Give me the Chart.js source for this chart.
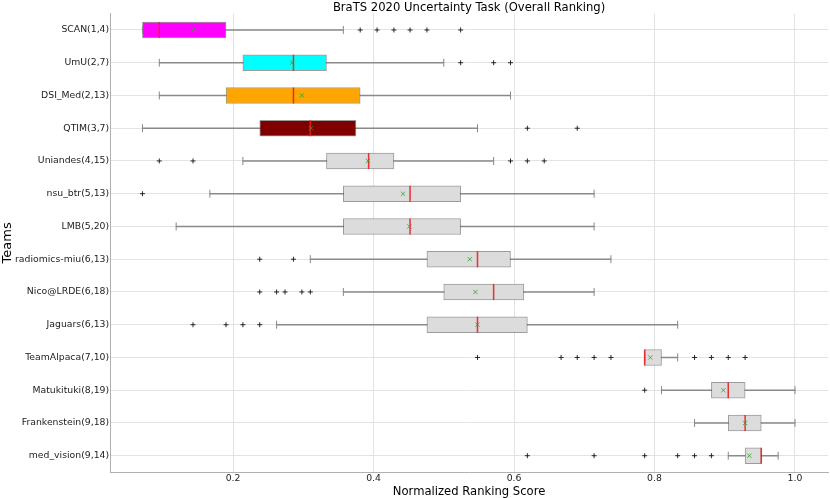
<!DOCTYPE html>
<html>
<head>
<meta charset="utf-8">
<script src="https://cdn.jsdelivr.net/npm/chart.js@4"></script>
<style>
  html, body { margin: 0; padding: 0; background: #fff; overflow: hidden; }
  #wrap { width: 830px; height: 498px; position: relative; }
  canvas { display: block; }
</style>
</head>
<body>
<div id="wrap"><canvas id="boxChart"></canvas></div>
<script>
// values (normalized ranking score)
const teams = ['SCAN(1,4)', 'UmU(2,7)', 'DSI_Med(2,13)', 'QTIM(3,7)', 'Uniandes(4,15)', 'nsu_btr(5,13)',
    'LMB(5,20)', 'radiomics-miu(6,13)', 'Nico@LRDE(6,18)', 'Jaguars(6,13)', 'TeamAlpaca(7,10)',
    'Matukituki(8,19)', 'Frankenstein(9,18)', 'med_vision(9,14)'];
const q1 = [0.071, 0.214, 0.190, 0.238, 0.333, 0.357, 0.357, 0.476, 0.500, 0.476, 0.786, 0.881, 0.905, 0.929];
const q3 = [0.190, 0.333, 0.381, 0.375, 0.429, 0.524, 0.524, 0.595, 0.614, 0.619, 0.810, 0.929, 0.952, 0.952];
const median = [0.095, 0.286, 0.286, 0.310, 0.393, 0.452, 0.452, 0.548, 0.571, 0.548, 0.786, 0.905, 0.929, 0.952];
const mean = [0.143, 0.284, 0.298, 0.311, 0.392, 0.442, 0.451, 0.537, 0.545, 0.548, 0.794, 0.898, 0.929, 0.935];
const whiskerLow = [0.071, 0.095, 0.095, 0.071, 0.214, 0.167, 0.119, 0.310, 0.357, 0.262, 0.786, 0.810, 0.857, 0.905];
const whiskerHigh = [0.357, 0.500, 0.595, 0.548, 0.571, 0.714, 0.714, 0.738, 0.714, 0.833, 0.833, 1.000, 1.000, 0.976];
const outliers = [
    [0.381, 0.405, 0.429, 0.452, 0.476, 0.524],
    [0.524, 0.571, 0.595],
    [],
    [0.619, 0.690],
    [0.095, 0.143, 0.595, 0.619, 0.643],
    [0.071],
    [],
    [0.238, 0.286],
    [0.238, 0.262, 0.274, 0.298, 0.310],
    [0.143, 0.190, 0.214, 0.238],
    [0.548, 0.667, 0.690, 0.714, 0.738, 0.857, 0.881, 0.905, 0.929],
    [0.786],
    [],
    [0.619, 0.714, 0.786, 0.833, 0.857, 0.881]
];
const xTicks = [0.2, 0.4, 0.6, 0.8, 1.0];

const boxColors = teams.map((t, i) => ['#ff00ff', '#00ffff', '#ffa500', '#800000'][i] || '#dcdcdc');
const font = 'DejaVu Sans';

const pts = (vals) => vals.map((v, i) => ({ x: v, y: teams[i] }));
const outlierPts = teams.flatMap((t, i) => outliers[i].map(v => ({ x: v, y: t })));

const ctx = document.getElementById('boxChart').getContext('2d');
const boxChart = new Chart(ctx, {
    type: 'bar',
    data: {
        labels: teams,
        datasets: [
            {
                type: 'scatter', label: 'outliers', data: outlierPts, order: 0,
                pointStyle: 'cross', radius: 2.5, borderColor: 'rgba(20,20,20,0.9)', borderWidth: 1
            },
            {
                type: 'scatter', label: 'mean', data: pts(mean), order: 0,
                pointStyle: 'crossRot', radius: 3, borderColor: 'rgba(44,160,44,0.8)', borderWidth: 1
            },
            {
                type: 'scatter', label: 'median', data: pts(median), order: 1,
                pointStyle: 'line', rotation: 90, radius: 8, borderColor: 'rgba(235,30,30,0.9)', borderWidth: 1.5
            },
            {
                type: 'scatter', label: 'caps', data: pts(whiskerLow).concat(pts(whiskerHigh)), order: 2,
                pointStyle: 'line', rotation: 90, radius: 4, borderColor: '#888888', borderWidth: 1
            },
            {
                label: 'box', data: teams.map((t, i) => [q1[i], q3[i]]), order: 3, grouped: false,
                backgroundColor: boxColors, borderColor: 'rgba(90,90,90,0.6)', borderWidth: 1,
                borderSkipped: false, barThickness: 16
            },
            {
                label: 'whisker', data: teams.map((t, i) => [whiskerLow[i], whiskerHigh[i]]), order: 4, grouped: false,
                backgroundColor: '#8a8a8a', borderWidth: 0, barThickness: 1
            }
        ]
    },
    options: {
        indexAxis: 'y',
        responsive: true,
        maintainAspectRatio: false,
        animation: false,
        layout: { autoPadding: false, padding: { top: 0, right: 2, bottom: 0, left: 0 } },
        plugins: {
            legend: { display: false },
            tooltip: { enabled: false },
            title: {
                display: true, fullSize: false,
                text: 'BraTS 2020 Uncertainty Task (Overall Ranking)',
                color: '#000', font: { family: font, size: 11.6, weight: 'normal', lineHeight: 1.0 },
                padding: { top: 2, bottom: 0 }
            }
        },
        scales: {
            x: {
                type: 'linear', min: 0.025, max: 1.047,
                afterBuildTicks: (axis) => { axis.ticks = xTicks.map(v => ({ value: v })); },
                ticks: {
                    color: '#222', font: { family: font, size: 9.3 }, padding: 1,
                    callback: (v) => v.toFixed(1)
                },
                grid: { color: '#e3e3e3', drawTicks: false },
                border: { color: '#b0b0b0' },
                title: {
                    display: true, text: 'Normalized Ranking Score', color: '#000',
                    font: { family: font, size: 11.6, lineHeight: 1.1 }, padding: { top: 0, bottom: 0 }
                }
            },
            y: {
                type: 'category',
                ticks: { color: '#222', font: { family: font, size: 9.3 }, padding: 1 },
                grid: { color: '#e3e3e3', drawTicks: false, offset: false },
                border: { color: '#b0b0b0' },
                title: {
                    display: true, text: 'Teams', color: '#000',
                    font: { family: font, size: 13, lineHeight: 1.0 }, padding: { top: 1, bottom: 0 }
                }
            }
        }
    }
});
</script>
</body>
</html>
